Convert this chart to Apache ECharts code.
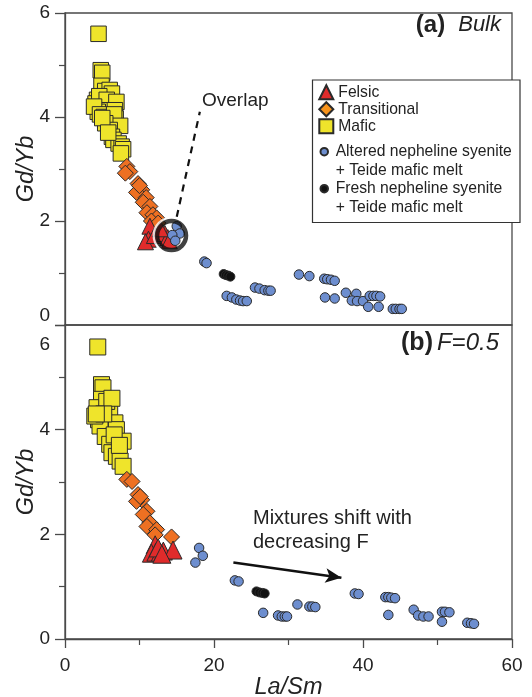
<!DOCTYPE html>
<html>
<head>
<meta charset="utf-8">
<script src="https://cdn.jsdelivr.net/npm/echarts@6/dist/echarts.min.js"></script>
<style>
html,body{margin:0;padding:0;background:#fff;}
#chart{width:532px;height:697px;}
</style>
</head>
<body>
<div id="chart"></div>
<script>
// ---------- DATA ----------
const xTickValues = [0, 20, 40, 60];
const yTickValues = [0, 2, 4, 6];

// Panel (a) Bulk
const maficBulk = [[4.5,5.6],[4.8,4.9],[5.0,4.85],[4.9,4.6],[5.4,4.5],[6.0,4.52],[6.3,4.45],[4.3,4.33],[4.1,4.26],[4.6,4.4],[5.6,4.33],[6.9,4.29],[4.9,4.13],[6.7,4.13],[4.4,4.1],[3.9,4.2],[4.7,4.05],[5.2,4.0],[5.4,3.94],[6.8,3.97],[6.6,4.05],[7.4,3.83],[5.4,3.88],[6.0,3.75],[6.3,3.62],[6.5,3.56],[7.2,3.49],[7.6,3.43],[7.8,3.38],[7.5,3.3],[5.0,3.98],[5.8,3.7]];
const transitionalBulk = [[8.3,3.05],[8.7,2.95],[8.1,2.92],[9.8,2.72],[10.3,2.6],[9.6,2.55],[10.9,2.45],[10.5,2.36],[11.4,2.28],[11.0,2.16],[11.8,2.12],[12.3,2.06],[11.6,2.0],[12.5,1.96],[10.0,2.68]];
const felsicBulk = [[11.4,1.9],[11.2,1.65],[10.8,1.6],[12.0,1.72],[13.4,1.76],[13.8,1.68],[12.8,1.85],[14.0,1.62]];
const alteredBulk = [[15.0,1.90],[15.4,1.76],[14.4,1.73],[14.8,1.62],[18.7,1.22],[19.0,1.19],[21.7,0.56],[22.4,0.53],[23.0,0.49],[23.5,0.47],[23.9,0.46],[24.4,0.46],[25.5,0.72],[26.1,0.70],[26.8,0.67],[27.3,0.66],[27.6,0.66],[31.4,0.97],[32.8,0.94],[34.8,0.89],[35.2,0.88],[35.7,0.87],[36.2,0.85],[34.9,0.53],[36.2,0.51],[37.7,0.62],[39.1,0.60],[38.5,0.47],[39.2,0.46],[40.0,0.46],[40.9,0.56],[41.4,0.56],[41.8,0.56],[42.3,0.55],[40.7,0.35],[42.1,0.35],[44.0,0.31],[44.4,0.31],[44.9,0.31],[45.2,0.31]];
const freshBulk = [[21.3,0.98],[21.6,0.96],[21.9,0.95],[22.2,0.93]];

// Panel (b) F=0.5
const maficF05 = [[4.4,5.58],[4.9,4.86],[5.1,4.8],[4.9,4.58],[6.0,4.38],[4.5,4.19],[6.7,4.13],[6.9,4.0],[4.7,4.07],[5.4,3.87],[7.8,3.78],[6.0,3.72],[6.3,3.56],[6.9,3.49],[7.4,3.4],[7.8,3.3],[4.0,4.26],[4.3,4.42],[5.6,4.54],[6.3,4.6],[5.2,4.3],[6.6,3.9],[7.3,3.7],[4.2,4.3]];
const transitionalF05 = [[8.3,3.05],[9.0,3.01],[9.8,2.76],[10.3,2.66],[9.6,2.63],[11.0,2.44],[10.5,2.38],[11.4,2.22],[11.0,2.15],[12.3,2.09],[12.1,1.99],[14.3,1.95],[10.1,2.72]];
const felsicF05 = [[12.1,1.8],[11.6,1.64],[12.2,1.66],[12.8,1.66],[13.2,1.68],[14.5,1.7],[12.5,1.74],[13.0,1.62]];
const alteredF05 = [[18.0,1.74],[18.5,1.59],[17.5,1.46],[22.8,1.12],[23.3,1.10],[26.6,0.50],[28.6,0.45],[29.1,0.43],[29.5,0.43],[29.8,0.43],[31.2,0.66],[32.8,0.62],[33.2,0.62],[33.6,0.61],[38.9,0.87],[39.4,0.86],[43.0,0.80],[43.4,0.80],[43.8,0.79],[44.3,0.78],[43.4,0.46],[46.8,0.56],[47.4,0.45],[48.1,0.43],[48.8,0.43],[50.6,0.52],[51.0,0.52],[51.6,0.51],[50.6,0.33],[54.0,0.31],[54.5,0.30],[54.9,0.29]];
const freshF05 = [[25.7,0.91],[26.1,0.89],[26.5,0.88],[26.8,0.87]];

// Annotations (data coordinates)
const overlapRing = [14.3, 1.72];
const overlapLine = [[15.0, 2.08], [18.1, 4.10]];
const shiftArrow = [[22.6, 1.46], [37.1, 1.17]];

// ---------- STYLE ----------
const FONT = 'Liberation Sans';
const TXT = '#222';
const AX = '#4a4a4a';
const NAMES = {
  felsic: 'Felsic',
  trans: 'Transitional',
  mafic: 'Mafic',
  altered: 'Altered nepheline syenite + Teide mafic melt',
  fresh: 'Fresh nepheline syenite + Teide mafic melt'
};
const COL = {felsic:'#e02b2b', trans:'#ee7022', mafic:'#efe42b', altered:'#6d8ecf', fresh:'#111111'};
const BORDER = '#2a2a2a';

function pointSeries(name, data, panel, symbol, size, color, z) {
  return {
    type: 'scatter', name: name, data: data,
    xAxisIndex: panel, yAxisIndex: panel,
    symbol: symbol, symbolSize: size, z: z,
    itemStyle: {color: color, borderColor: BORDER, borderWidth: 1, opacity: 1},
    emphasis: {disabled: true}, silent: true
  };
}

function yAxisFor(panel) {
  return {
    gridIndex: panel, type: 'value', min: 0, max: 6, interval: 2,
    name: 'Gd/Yb', nameLocation: 'middle', nameGap: 27, nameMoveOverlap: false,
    nameTextStyle: {fontFamily: FONT, fontStyle: 'italic', fontSize: 23.5, color: TXT},
    axisLine: {show: true, lineStyle: {color: AX, width: 1.3}},
    axisTick: {show: true, length: 10, lineStyle: {color: AX, width: 1.3}},
    minorTick: {show: true, splitNumber: 2, length: 6, lineStyle: {color: AX, width: 1.2}},
    splitLine: {show: false}, minorSplitLine: {show: false},
    axisLabel: {
      fontFamily: FONT, fontSize: 19, color: TXT, margin: 15,
      formatter: function (v) {
        if (panel === 0 && v === 0) return '{lo|0}';
        if (panel === 1 && v === 6) return '{hi|6}';
        return String(v);
      },
      rich: {
        lo: {fontFamily: FONT, fontSize: 19, color: TXT, padding: [0, 0, 19, 0]},
        hi: {fontFamily: FONT, fontSize: 19, color: TXT, padding: [40, 0, 0, 0]}
      }
    }
  };
}

const legendText = {fontFamily: FONT, fontSize: 15.7, color: TXT, lineHeight: 16.5};
const mixLegendText = {fontFamily: FONT, fontSize: 15.7, color: TXT, lineHeight: 18.8};
function mixFormatter(name) {
  // leading empty line keeps the marker level with the first text line
  return '\n' + name.replace(' + ', '\n+ ');
}

const option = {
  animation: false,
  backgroundColor: '#fff',
  textStyle: {fontFamily: FONT},
  grid: [
    {left: 65, top: 13, width: 447, height: 312, show: true, borderColor: AX, borderWidth: 1.3,
      backgroundColor: 'transparent', containLabel: false, outerBoundsMode: 'none'},
    {left: 65, top: 325, width: 447, height: 314, show: true, borderColor: AX, borderWidth: 1.3,
      backgroundColor: 'transparent', containLabel: false, outerBoundsMode: 'none'}
  ],
  xAxis: [
    {gridIndex: 0, type: 'value', min: 0, max: 60, interval: 20,
      axisLine: {show: false}, axisTick: {show: false}, axisLabel: {show: false}, splitLine: {show: false}},
    {gridIndex: 1, type: 'value', min: 0, max: 60, interval: 20,
      name: 'La/Sm', nameLocation: 'middle', nameGap: 34,
      nameTextStyle: {fontFamily: FONT, fontStyle: 'italic', fontSize: 23.5, color: TXT},
      axisLine: {show: true, lineStyle: {color: AX, width: 1.3}},
      axisTick: {show: true, length: 9, lineStyle: {color: AX, width: 1.3}},
      minorTick: {show: true, splitNumber: 2, length: 6, lineStyle: {color: AX, width: 1.2}},
      splitLine: {show: false}, minorSplitLine: {show: false},
      axisLabel: {fontFamily: FONT, fontSize: 19, color: TXT, margin: 17,
        customValues: xTickValues}
    }
  ],
  yAxis: [yAxisFor(0), yAxisFor(1)],
  legend: [
    {
      z: 100, orient: 'vertical', left: 318.3, top: 84, padding: 0,
      itemWidth: 14, itemHeight: 14, itemGap: 0.5, selectedMode: false,
      textStyle: legendText,
      data: [
        {name: NAMES.felsic},
        {name: NAMES.trans, itemStyle: {color: '#f7941d'}},
        {name: NAMES.mafic}
      ]
    },
    {
      z: 100, orient: 'vertical', left: 319.5, top: 123.5, padding: 0,
      itemWidth: 12.8, itemHeight: 7.5, selectedMode: false,
      textStyle: mixLegendText, formatter: mixFormatter,
      data: [{name: NAMES.altered}]
    },
    {
      z: 100, orient: 'vertical', left: 319.5, top: 160.5, padding: 0,
      itemWidth: 12.8, itemHeight: 7.5, selectedMode: false,
      textStyle: mixLegendText, formatter: mixFormatter,
      data: [{name: NAMES.fresh}]
    }
  ],
  graphic: [
    {type: 'rect', z: 90, shape: {x: 312.5, y: 80, width: 207.5, height: 142.5},
      style: {fill: '#fff', stroke: '#333', lineWidth: 1.2}},
    {type: 'text', z: 95, right: 31, top: 13,
      style: {text: '{b|(a)}{i|Bulk}', fill: TXT,
        rich: {b: {fontFamily: FONT, fontWeight: 'bold', fontSize: 24, fill: TXT, padding: [0, 13, 0, 0]},
               i: {fontFamily: FONT, fontStyle: 'italic', fontSize: 22, fill: TXT}}}},
    {type: 'text', z: 95, right: 33, top: 331,
      style: {text: '{b|(b)}{i|F=0.5}', fill: TXT,
        rich: {b: {fontFamily: FONT, fontWeight: 'bold', fontSize: 25, fill: TXT, padding: [0, 4, 0, 0]},
               i: {fontFamily: FONT, fontStyle: 'italic', fontSize: 24, fill: TXT}}}},
    {type: 'text', z: 95, left: 202, top: 91,
      style: {text: 'Overlap', fontFamily: FONT, fontSize: 19, fill: TXT}},
    {type: 'text', z: 95, left: 253, top: 506,
      style: {text: 'Mixtures shift with\ndecreasing F', fontFamily: FONT, fontSize: 20, lineHeight: 24, fill: TXT}}
  ],
  series: [
    pointSeries(NAMES.mafic, maficBulk, 0, 'rect', 15.5, COL.mafic, 2),
    pointSeries(NAMES.trans, transitionalBulk, 0, 'diamond', 16, COL.trans, 3),
    pointSeries(NAMES.felsic, felsicBulk, 0, 'triangle', 16, COL.felsic, 4),
    pointSeries(NAMES.altered, alteredBulk, 0, 'circle', 9.5, COL.altered, 5),
    pointSeries(NAMES.fresh, freshBulk, 0, 'circle', 9, COL.fresh, 6),
    pointSeries(NAMES.mafic, maficF05, 1, 'rect', 16, COL.mafic, 2),
    pointSeries(NAMES.trans, transitionalF05, 1, 'diamond', 16, COL.trans, 3),
    pointSeries(NAMES.felsic, felsicF05, 1, 'triangle', 18, COL.felsic, 4),
    pointSeries(NAMES.altered, alteredF05, 1, 'circle', 9.5, COL.altered, 5),
    pointSeries(NAMES.fresh, freshF05, 1, 'circle', 9, COL.fresh, 6),
    // Overlap ring (white halo + black ring)
    {type: 'scatter', name: 'ringHalo', data: [overlapRing], xAxisIndex: 0, yAxisIndex: 0, z: 7,
      symbol: 'circle', symbolSize: 35, silent: true, emphasis: {disabled: true},
      itemStyle: {color: 'rgba(0,0,0,0)', borderColor: '#fff', borderWidth: 3}},
    {type: 'scatter', name: 'ring', data: [overlapRing], xAxisIndex: 0, yAxisIndex: 0, z: 8,
      symbol: 'circle', symbolSize: 29, silent: true, emphasis: {disabled: true},
      itemStyle: {color: 'rgba(0,0,0,0)', borderColor: '#111', borderWidth: 4.5}},
    // Overlap leader line (dashed)
    {type: 'line', name: 'overlapLine', data: overlapLine, xAxisIndex: 0, yAxisIndex: 0, z: 8,
      symbol: 'none', silent: true, emphasis: {disabled: true},
      lineStyle: {color: '#111', width: 2.2, type: [7, 6]}},
    // Shift arrow
    {type: 'scatter', name: 'arrow', data: [], xAxisIndex: 1, yAxisIndex: 1, z: 8, silent: true,
      markLine: {
        silent: true, animation: false,
        symbol: ['none', 'arrow'], symbolSize: [11, 16],
        label: {show: false},
        lineStyle: {color: '#111', width: 2.5, type: 'solid'},
        emphasis: {disabled: true},
        data: [[{coord: shiftArrow[0]}, {coord: shiftArrow[1]}]]
      }}
  ]
};

const chart = echarts.init(document.getElementById('chart'), null, {renderer: 'canvas'});
chart.setOption(option);
</script>
</body>
</html>
